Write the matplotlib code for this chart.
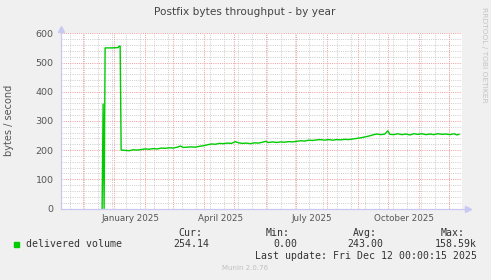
import matplotlib
matplotlib.use("Agg")
import matplotlib.pyplot as plt
import pandas as pd
from datetime import datetime

# delivered volume (bytes / second)
dates = ["2024-12-20", "2024-12-21", "2024-12-22", "2024-12-23", "2024-12-30", "2025-01-05",
         "2025-01-06", "2025-01-07", "2025-01-08",
         "2025-01-12", "2025-01-16", "2025-01-20", "2025-01-24", "2025-01-28",
         "2025-02-01", "2025-02-05", "2025-02-09", "2025-02-13", "2025-02-17", "2025-02-21",
         "2025-02-25", "2025-03-01", "2025-03-05", "2025-03-08", "2025-03-11", "2025-03-15",
         "2025-03-19", "2025-03-23", "2025-03-27", "2025-03-31", "2025-04-04", "2025-04-08",
         "2025-04-12", "2025-04-16", "2025-04-20", "2025-04-24", "2025-04-28", "2025-05-02",
         "2025-05-05", "2025-05-09", "2025-05-13", "2025-05-17", "2025-05-21", "2025-05-25",
         "2025-05-29", "2025-06-01", "2025-06-04", "2025-06-08", "2025-06-12", "2025-06-16",
         "2025-06-20", "2025-06-24", "2025-06-28", "2025-07-02", "2025-07-06", "2025-07-10",
         "2025-07-14", "2025-07-18", "2025-07-22", "2025-07-26", "2025-07-30", "2025-08-03",
         "2025-08-07", "2025-08-11", "2025-08-15", "2025-08-19", "2025-08-23", "2025-08-27",
         "2025-08-31", "2025-09-04", "2025-09-08", "2025-09-12", "2025-09-16", "2025-09-20",
         "2025-09-24", "2025-09-28", "2025-10-01", "2025-10-03", "2025-10-07", "2025-10-11",
         "2025-10-15", "2025-10-19", "2025-10-23", "2025-10-27", "2025-10-31", "2025-11-04",
         "2025-11-08", "2025-11-12", "2025-11-16", "2025-11-20", "2025-11-24", "2025-11-28",
         "2025-12-02", "2025-12-06", "2025-12-09", "2025-12-11"]
volume = [0, 358, 0, 550, 550, 551,
          556, 556, 200,
          199, 198, 201, 200, 202,
          204, 203, 205, 204, 207, 206,
          208, 207, 210, 214, 209, 210,
          211, 210, 213, 215, 218, 221,
          220, 223, 222, 224, 223, 229,
          225, 223, 224, 222, 225, 224,
          227, 230, 226, 228, 226, 228,
          227, 229, 228, 230, 232, 231,
          234, 233, 235, 236, 234, 236,
          234, 236, 235, 237, 236, 238,
          240, 242, 245, 248, 252, 255,
          253, 255, 266, 254, 253, 256,
          253, 255, 252, 256, 254, 256,
          253, 255, 253, 256, 254, 255,
          253, 256, 252, 254]

month_labels = ["January 2025", "April 2025", "July 2025", "October 2025"]
label_dates = ["2025-01-17", "2025-04-17", "2025-07-17", "2025-10-17"]

cur_v, min_v, avg_v, max_v = "254.14", "0.00", "243.00", "158.59k"

W, H = 491, 280
fig = plt.figure(figsize=(W / 100, H / 100), dpi=100, facecolor="#F0F0F0")
L, R, T, B = 60.5, 461.5, 33.3, 208.5
ax = fig.add_axes([L / W, 1 - B / H, (R - L) / W, (B - T) / H])
ax.set_facecolor("white")

x0 = datetime(2024, 11, 8, 12)
x1 = datetime(2025, 12, 13, 12)
ax.set_xlim(x0, x1)
ax.set_ylim(0, 600)

# grid
dot = (0, (1, 1.2))
for d in pd.date_range("2024-11-18", "2025-12-13", freq="14D"):
    ax.axvline(d, color="#CFCFCF", lw=0.72, ls=dot, zorder=1)
for y in range(20, 600, 20):
    if y % 100:
        ax.axhline(y, color="#CFCFCF", lw=0.72, ls=dot, zorder=1)
for d in pd.date_range("2024-12-01", "2025-12-13", freq="MS"):
    ax.axvline(d, color="#F0A0A0", lw=0.72, ls=dot, zorder=2)
for y in range(100, 601, 100):
    ax.axhline(y, color="#F0A0A0", lw=0.72, ls=dot, zorder=2)

ax.plot(pd.to_datetime(dates), volume, color="#00CC00", lw=1.0, zorder=5)

for s in ax.spines.values():
    s.set_visible(False)
# axis lines with arrows
ax.plot([0, 1.015], [0, 0], color="#C8C8F0", lw=0.9, transform=ax.transAxes, clip_on=False, zorder=6)
ax.plot([1.015], [0], marker=">", ms=4, color="#C8C8F0", transform=ax.transAxes, clip_on=False, zorder=6)
ax.plot([0, 0], [0, 1.02], color="#C8C8F0", lw=0.9, transform=ax.transAxes, clip_on=False, zorder=6)
ax.plot([0], [1.025], marker="^", ms=4, color="#C8C8F0", transform=ax.transAxes, clip_on=False, zorder=6)

ax.set_yticks(range(0, 601, 100))
ax.set_xticks(pd.to_datetime(label_dates))
ax.set_xticklabels(month_labels)
ax.tick_params(axis="y", length=0, labelsize=6.8, colors="#555555", pad=5)
ax.tick_params(axis="x", length=0, labelsize=6.3, colors="#555555", pad=4)

fig.text(245 / W, 1 - 12 / H, "Postfix bytes throughput - by year", ha="center", va="center",
         fontsize=7.6, color="#444444")
fig.text(9.5 / W, 1 - 120 / H, "bytes / second", rotation=90, ha="center", va="center",
         fontsize=7, color="#555555")
fig.text(484 / W, 1 - 55 / H, "RRDTOOL / TOBI OETIKER", rotation=270, ha="center", va="center",
         fontsize=5.4, color="#C4C4C4")

mono = dict(family="DejaVu Sans Mono", fontsize=7.1, color="#333333", va="center")
fig.patches.append(plt.Rectangle((14 / W, 1 - 247.3 / H), 5.3 / W, 5 / H, transform=fig.transFigure,
                                 color="#00CC00", figure=fig))
fig.text(26 / W, 1 - 244.3 / H, "delivered volume", ha="left", **mono)
for xh, head, xv, val in [(202, "Cur:", 209, cur_v), (290, "Min:", 297, min_v),
                          (377, "Avg:", 383.5, avg_v), (464.5, "Max:", 476.7, max_v)]:
    fig.text(xh / W, 1 - 233.3 / H, head, ha="right", **mono)
    fig.text(xv / W, 1 - 244.3 / H, val, ha="right", **mono)
fig.text(476.7 / W, 1 - 256 / H, "Last update: Fri Dec 12 00:00:15 2025", ha="right", **mono)
fig.text(245 / W, 1 - 268.3 / H, "Munin 2.0.76", ha="center", va="center", fontsize=5,
         color="#C0C0C0")

fig.savefig("out.png", dpi=100, facecolor=fig.get_facecolor())
